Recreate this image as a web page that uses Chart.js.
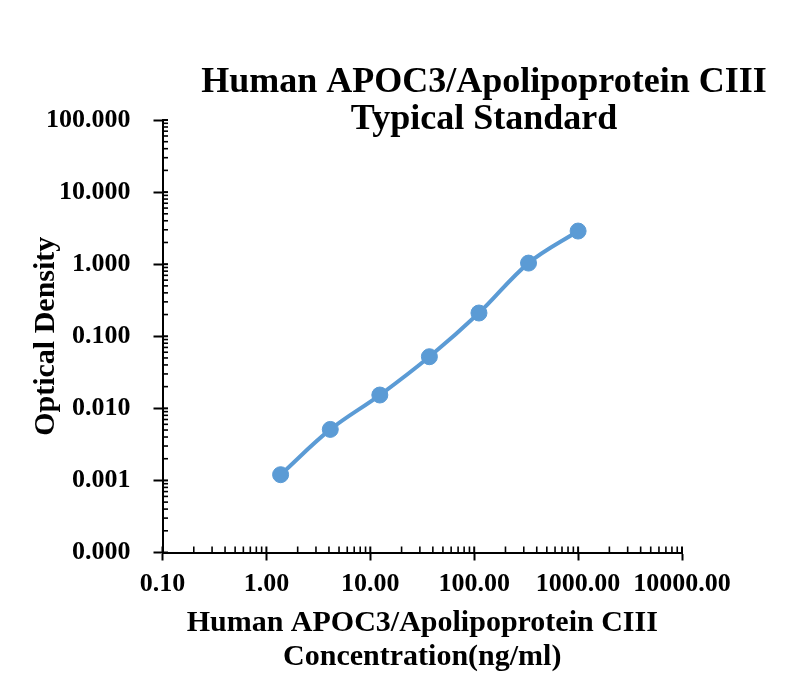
<!DOCTYPE html>
<html>
<head>
<meta charset="utf-8">
<script src="https://cdn.jsdelivr.net/npm/chart.js@4.4.1/dist/chart.umd.min.js"></script>
<style>
  html, body { margin: 0; padding: 0; background: #fff; }
</style>
</head>
<body>
<canvas id="stdChart" width="800" height="696"></canvas>
<script>
// standard curve, 3-fold dilutions (ng/ml) vs OD
const concentrations = [1.37, 4.12, 12.35, 37.04, 111.11, 333.33, 1000];
const odValues = [0.0012, 0.0051, 0.0153, 0.052, 0.21, 1.035, 2.88];

const xDecades = [0.1, 1, 10, 100, 1000, 10000];
const yDecades = [0.0001, 0.001, 0.01, 0.1, 1, 10, 100];

const titleLines = ['Human APOC3/Apolipoprotein CIII', 'Typical Standard'];
const xTitleLines = ['Human APOC3/Apolipoprotein CIII', 'Concentration(ng/ml)'];
const yTitle = 'Optical Density';

const SERIF = "'Liberation Serif', 'Times New Roman', serif";
const BLUE = '#5B9BD5';

const isDecade = v => Math.abs(Math.log10(v) - Math.round(Math.log10(v))) < 1e-9;

function logTicks(decades) {
    const ticks = [];
    for (let i = 0; i < decades.length - 1; i++) {
        for (let m = 1; m <= 9; m++) {
            ticks.push({ value: m * decades[i], major: m === 1 });
        }
    }
    ticks.push({ value: decades[decades.length - 1], major: true });
    return ticks;
}

// small inward tick marks, like the Excel axis
const innerTicks = {
    id: 'innerTicks',
    beforeDatasetsDraw(chart) {
        const { ctx, chartArea, scales } = chart;
        ctx.save();
        ctx.strokeStyle = '#000';
        scales.x.ticks.forEach(t => {
            const px = scales.x.getPixelForValue(t.value);
            ctx.lineWidth = isDecade(t.value) ? 2 : 1.6;
            ctx.beginPath();
            ctx.moveTo(px, chartArea.bottom);
            ctx.lineTo(px, chartArea.bottom - 6);
            ctx.stroke();
        });
        scales.y.ticks.forEach(t => {
            const py = scales.y.getPixelForValue(t.value);
            ctx.lineWidth = isDecade(t.value) ? 2 : 1.6;
            ctx.beginPath();
            ctx.moveTo(chartArea.left, py);
            ctx.lineTo(chartArea.left + 5.5, py);
            ctx.stroke();
        });
        ctx.restore();
    }
};

// two-line title, centred right of the plot like the original
const chartTitle = {
    id: 'chartTitle',
    afterDraw(chart) {
        const ctx = chart.ctx;
        ctx.save();
        ctx.fillStyle = '#000';
        ctx.font = 'bold 36px ' + SERIF;
        ctx.textAlign = 'center';
        ctx.textBaseline = 'alphabetic';
        ctx.fillText(titleLines[0], 484, 92);
        ctx.fillText(titleLines[1], 484, 129);
        ctx.restore();
    }
};

const tickFont = { family: SERIF, size: 26, weight: 'bold' };
const titleFont = { family: SERIF, size: 30, weight: 'bold', lineHeight: 34 / 30 };
const tickColor = c => isDecade(c.tick.value) ? '#000' : 'rgba(0,0,0,0)';

new Chart(document.getElementById('stdChart'), {
    type: 'line',
    data: {
        datasets: [{
            data: concentrations.map((c, i) => ({ x: c, y: odValues[i] })),
            borderColor: BLUE,
            backgroundColor: BLUE,
            borderWidth: 4,
            tension: 0.35,
            fill: false,
            pointRadius: 8,
            pointBorderWidth: 1,
            pointBackgroundColor: BLUE,
            pointBorderColor: BLUE,
        }]
    },
    options: {
        responsive: false,
        animation: false,
        layout: {
            padding: { top: 120, right: 118, bottom: 0, left: 0 }
        },
        plugins: {
            legend: { display: false },
            tooltip: { enabled: false },
        },
        scales: {
            x: {
                type: 'logarithmic',
                min: 0.1,
                max: 10000,
                afterBuildTicks: s => { s.ticks = logTicks(xDecades); },
                afterFit: s => { s.height = 143.5; },
                border: { display: true, color: '#000', width: 2 },
                grid: {
                    drawOnChartArea: false,
                    drawTicks: true,
                    tickLength: 8,
                    tickWidth: 2,
                    tickColor: tickColor,
                },
                ticks: {
                    autoSkip: false,
                    maxRotation: 0,
                    padding: 8,
                    color: '#000',
                    font: tickFont,
                    callback: v => isDecade(v) ? v.toFixed(2) : '',
                },
                title: {
                    display: true,
                    text: xTitleLines,
                    color: '#000',
                    font: titleFont,
                    padding: { top: 0, bottom: 22 },
                }
            },
            y: {
                type: 'logarithmic',
                min: 0.0001,
                max: 100,
                afterBuildTicks: s => { s.ticks = logTicks(yDecades); },
                afterFit: s => { s.width = 162.5; },
                border: { display: true, color: '#000', width: 2 },
                grid: {
                    drawOnChartArea: false,
                    drawTicks: true,
                    tickLength: 9,
                    tickWidth: 2,
                    tickColor: tickColor,
                },
                ticks: {
                    autoSkip: false,
                    padding: 23,
                    color: '#000',
                    font: tickFont,
                    callback: v => isDecade(v) ? v.toFixed(3) : '',
                },
                title: {
                    display: true,
                    text: yTitle,
                    color: '#000',
                    font: { family: SERIF, size: 30, weight: 'bold' },
                    padding: { top: 28, bottom: 0 },
                }
            }
        }
    },
    plugins: [innerTicks, chartTitle]
});
</script>
</body>
</html>
